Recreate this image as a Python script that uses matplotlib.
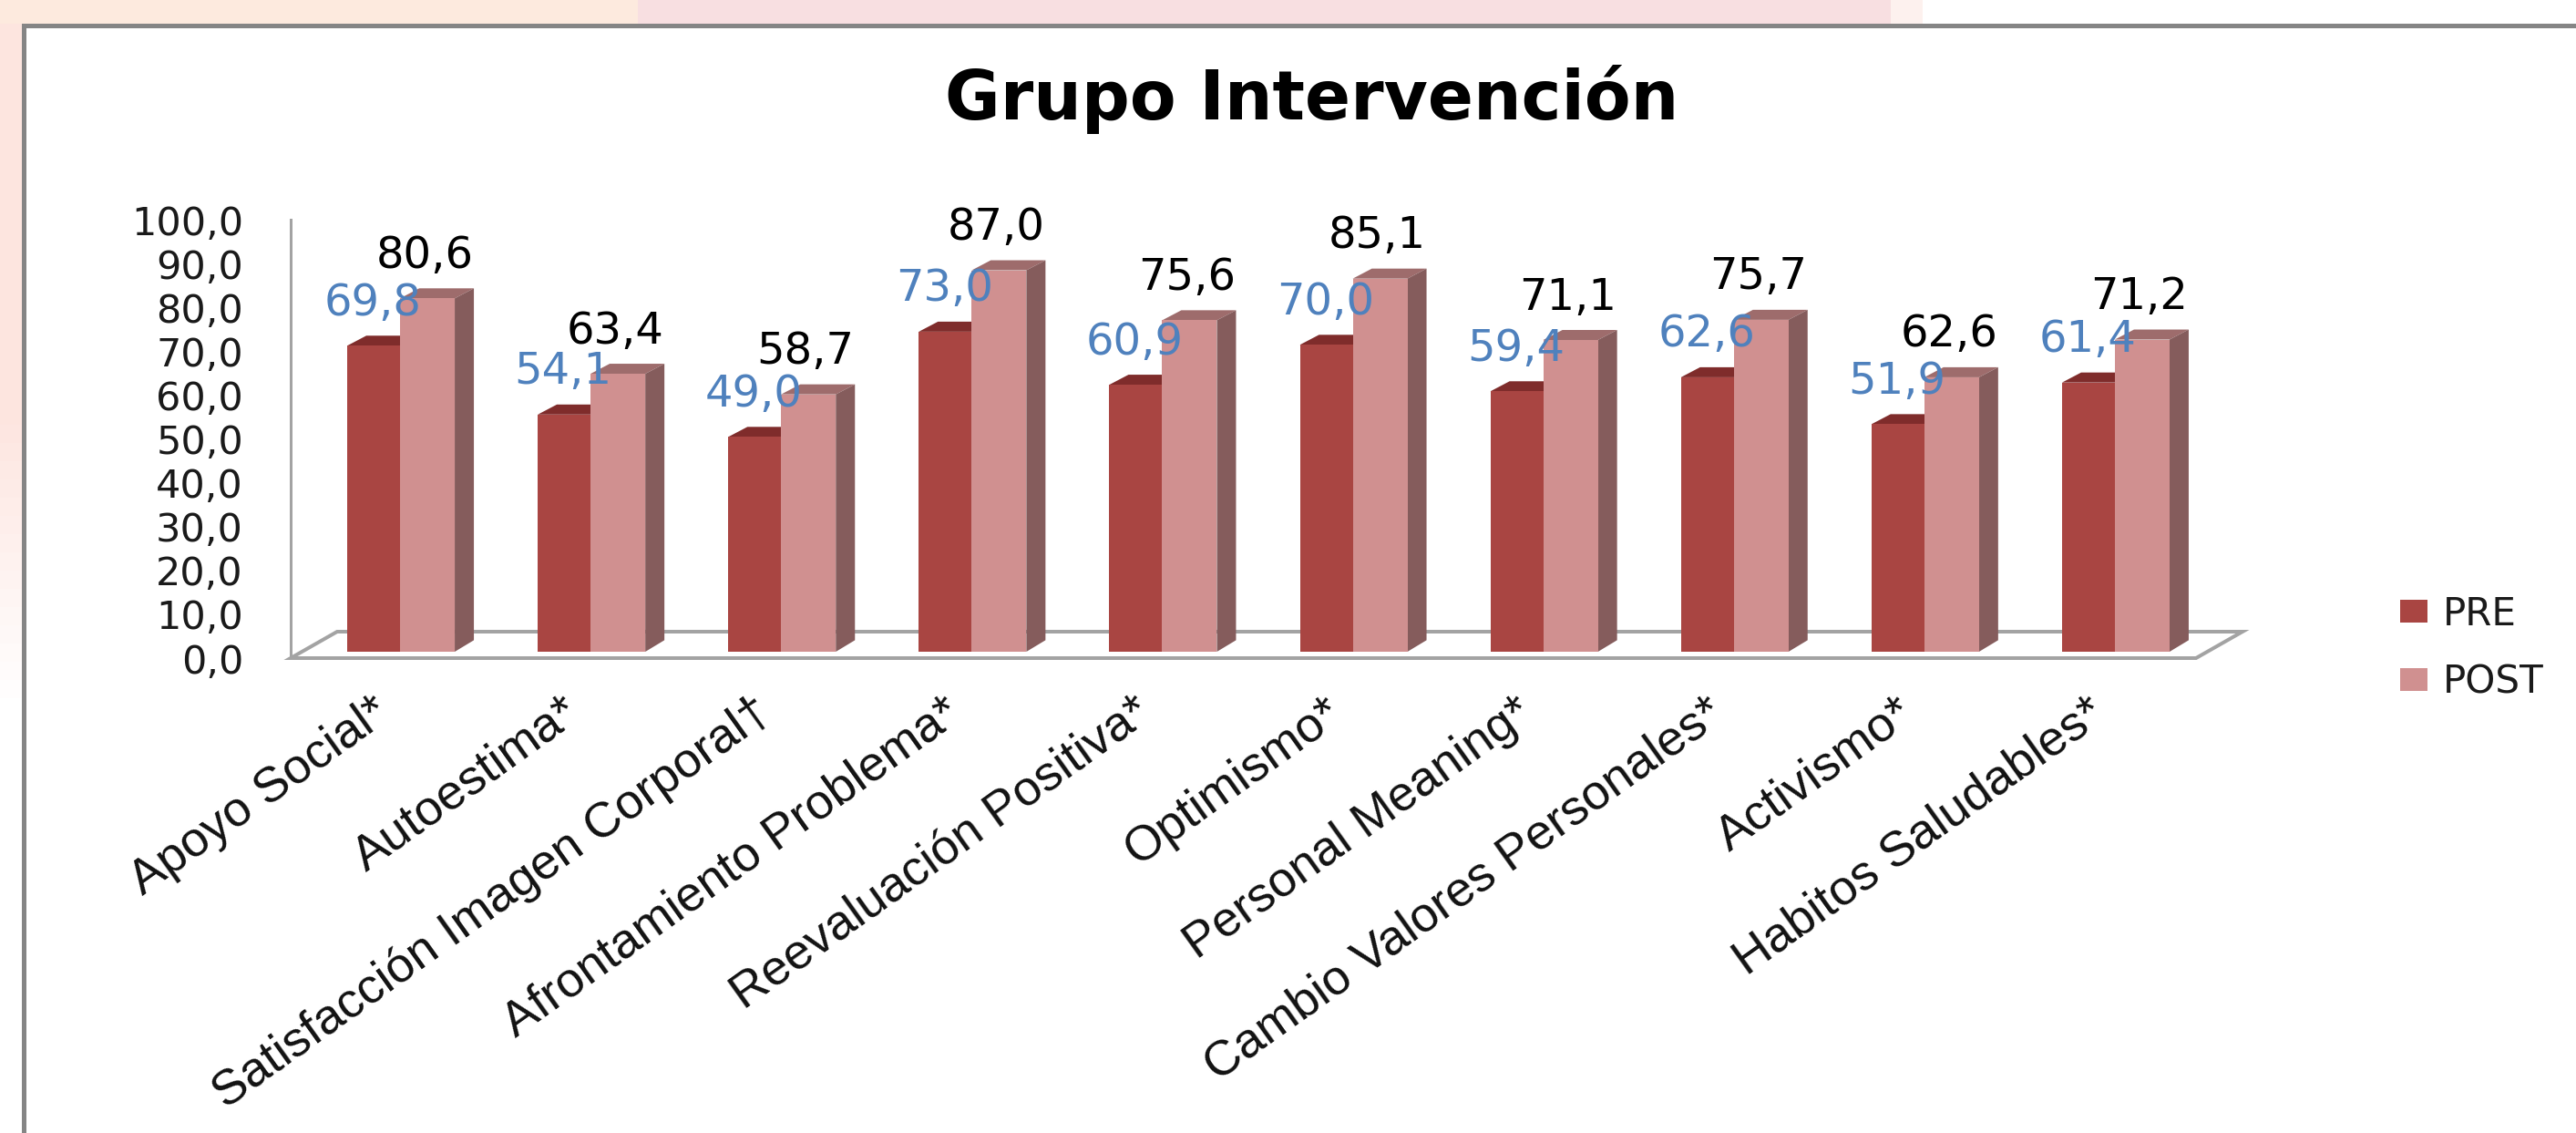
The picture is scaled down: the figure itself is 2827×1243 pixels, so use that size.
import matplotlib
matplotlib.use("Agg")
import matplotlib.pyplot as plt
from matplotlib.patches import Polygon, Rectangle
from matplotlib.transforms import Affine2D
import matplotlib.colors as mcolors
import numpy as np

categories = ["Apoyo Social*", "Autoestima*", "Satisfacción Imagen Corporal†",
              "Afrontamiento Problema*", "Reevaluación Positiva*", "Optimismo*",
              "Personal Meaning*", "Cambio Valores Personales*", "Activismo*",
              "Habitos Saludables*"]
pre_values = [69.8, 54.1, 49.0, 73.0, 60.9, 70.0, 59.4, 62.6, 51.9, 61.4]
post_values = [80.6, 63.4, 58.7, 87.0, 75.6, 85.1, 71.1, 75.7, 62.6, 71.2]
y_ticks = [0, 10, 20, 30, 40, 50, 60, 70, 80, 90, 100]
series_names = ["PRE", "POST"]
title_text = "Grupo Intervención"

W, H = 2827, 1243
PT = 0.72  # px -> pt at dpi 100
C_PRE, C_PRE_TOP = "#a94542", "#7f2c2b"
C_POST, C_POST_TOP, C_POST_SIDE = "#d09090", "#9e6c6c", "#855c5c"
C_LINE, C_FRAME = "#a3a3a3", "#858585"
C_BLUE = "#4f81bd"

fig = plt.figure(figsize=(W / 100, H / 100), dpi=100, facecolor="white")


def px_rect(x0, y0, x1, y1, color, z=0):
    fig.add_artist(Rectangle((x0 / W, 1 - y1 / H), (x1 - x0) / W, (y1 - y0) / H,
                             transform=fig.transFigure, facecolor=color,
                             edgecolor="none", zorder=z))


# slide background peeking out round the chart frame
px_rect(0, 0, 700, 26, "#fdeade")
px_rect(700, 0, 2075, 26, "#f8dfe1")
px_rect(2075, 0, 2110, 26, "#fdf1ee")
top_c = np.array(mcolors.to_rgb("#fde5df"))
end_c = np.array(mcolors.to_rgb("#ffffff"))
for k in range(40):
    y0 = 26 + k * 20
    t = np.clip((y0 - 450) / 320, 0, 1)
    px_rect(0, y0, 24, y0 + 21, tuple(top_c + (end_c - top_c) * t))
# frame: top and left only
px_rect(24, 26, W, 31, C_FRAME, z=1)
px_rect(24, 26, 29, H, C_FRAME, z=1)

ax = fig.add_axes([319 / W, 1 - 722 / H, (2410 - 319) / W, (722 - 241) / H])
ax.set_xlim(-0.5, 9.5)
ax.set_ylim(0, 100)
ax.patch.set_alpha(0)
for s in ["top", "right", "bottom"]:
    ax.spines[s].set_visible(False)
ax.spines["left"].set_color(C_LINE)
ax.spines["left"].set_linewidth(3 * PT)

px_x = (2410 - 319) / 10
px_y = (722 - 241) / 100

# floor of the 3-D box
fd_x, fd_y = 51 / px_x, 29 / px_y
ax.add_patch(Polygon([(-0.5, 0), (-0.5 + fd_x, fd_y), (9.5 + fd_x, fd_y), (9.5, 0)],
                     closed=True, facecolor="white", edgecolor=C_LINE,
                     linewidth=4 * PT, clip_on=False, zorder=1))

# bars sit inside the box: shifted off the front plane
bar_tr = ax.transData + Affine2D().translate(15.5, 7)
x = np.arange(len(categories))
w_pre, w_post = 58 / px_x, 60 / px_x
d_x, d_y = 21 / px_x, 11 / px_y

for i in x:
    pv, qv = pre_values[i], post_values[i]
    ax.add_patch(Polygon([(i - w_pre, pv), (i - w_pre + d_x, pv + d_y),
                          (i + d_x, pv + d_y), (i, pv)], closed=True,
                         facecolor=C_PRE_TOP, edgecolor="none",
                         transform=bar_tr, zorder=2, clip_on=False))
    ax.add_patch(Polygon([(i, qv), (i + d_x, qv + d_y),
                          (i + w_post + d_x, qv + d_y), (i + w_post, qv)], closed=True,
                         facecolor=C_POST_TOP, edgecolor="none",
                         transform=bar_tr, zorder=3, clip_on=False))
    ax.add_patch(Polygon([(i + w_post, 0), (i + w_post + d_x, d_y * 1.15),
                          (i + w_post + d_x, qv + d_y), (i + w_post, qv)], closed=True,
                         facecolor=C_POST_SIDE, edgecolor="none",
                         transform=bar_tr, zorder=3, clip_on=False))

b_pre = ax.bar(x - w_pre / 2, pre_values, width=w_pre, color=C_PRE, linewidth=0,
               transform=bar_tr, zorder=4, label=series_names[0])
b_post = ax.bar(x + w_post / 2, post_values, width=w_post, color=C_POST, linewidth=0,
                transform=bar_tr, zorder=4, label=series_names[1])


def comma(v):
    return f"{v:.1f}".replace(".", ",")


for i in x:
    ax.annotate(comma(pre_values[i]), (i - w_pre / 2, pre_values[i]), xycoords=bar_tr,
                xytext=(-1 * PT, 47 * PT), textcoords="offset points", ha="center",
                va="center", fontsize=48 * PT, color=C_BLUE, zorder=6,
                annotation_clip=False)
    ax.annotate(comma(post_values[i]), (i + w_post / 2, post_values[i]), xycoords=bar_tr,
                xytext=(-3 * PT, 47 * PT), textcoords="offset points", ha="center",
                va="center", fontsize=48 * PT, color="black", zorder=6,
                annotation_clip=False)

ax.set_yticks(y_ticks, [comma(v) for v in y_ticks])
ax.tick_params(axis="y", length=0, pad=52 * PT, labelsize=43 * PT, labelcolor="#1a1a1a")
ax.set_xticks(x, categories)
ax.tick_params(axis="x", length=0, pad=34 * PT)
label_shift = Affine2D().translate(-16, 0)
for lab in ax.get_xticklabels():
    lab.set(rotation=35.5, ha="right", va="top", rotation_mode="anchor",
            family="Liberation Sans", fontsize=54 * PT, color="#111111")
    lab.set_transform(lab.get_transform() + label_shift)

fig.text(1440 / W, 1 - 109 / H, title_text, ha="center", va="center",
         fontsize=74 * PT, fontweight="bold", color="black")

fig.legend(handles=[b_pre, b_post], labels=series_names, loc="center left",
           bbox_to_anchor=(2634 / W, 1 - 711 / H), frameon=False,
           fontsize=42 * PT, handlelength=30 / 42, handleheight=22 / 42,
           handletextpad=17 / 42, labelspacing=(75 - 42) / 42, labelcolor="#1a1a1a",
           borderpad=0, borderaxespad=0)

fig.savefig("out.png", dpi=100)
